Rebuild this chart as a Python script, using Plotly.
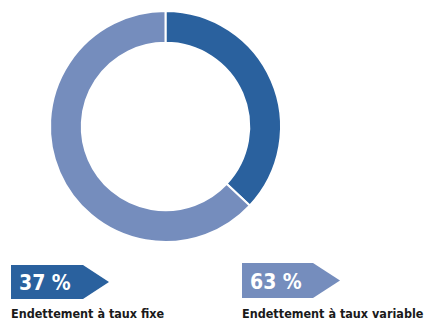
import plotly.graph_objects as go

# Debt split by rate type
labels = ["Endettement à taux fixe", "Endettement à taux variable"]
shares = [37, 63]
colors = ["#2a619e", "#758dbd"]

W, H = 430, 320
FONT = "DejaVu Sans Condensed, Roboto, Arial, sans-serif"

fig = go.Figure()

# Donut, starting at 12 o'clock and running clockwise
fig.add_trace(go.Pie(
    labels=labels,
    values=shares,
    sort=False,
    direction="clockwise",
    rotation=0,
    hole=0.725,
    marker=dict(colors=colors, line=dict(color="white", width=2)),
    textinfo="none",
    hoverinfo="label+percent",
    showlegend=False,
    domain=dict(x=[50 / W, 281 / W], y=[1 - 242 / H, 1 - 11 / H]),
))

# Invisible pixel-space axes used to place the arrow tags
fig.add_trace(go.Scatter(x=[], y=[], showlegend=False, hoverinfo="skip"))

tags = [
    dict(x0=11, x1=83, tip=109, y0=265, y1=299),
    dict(x0=242, x1=313, tip=340, y0=263, y1=298),
]

for tag, share, label, color in zip(tags, shares, labels, colors):
    ym = (tag["y0"] + tag["y1"]) / 2
    path = (f"M {tag['x0']} {tag['y0']} L {tag['x1']} {tag['y0']} "
            f"L {tag['tip']} {ym} L {tag['x1']} {tag['y1']} "
            f"L {tag['x0']} {tag['y1']} Z")
    fig.add_shape(type="path", path=path, xref="x", yref="y",
                  fillcolor=color, line=dict(width=0), layer="above")
    fig.add_annotation(x=tag["x0"] + 6, y=ym + 1, xref="x", yref="y",
                       text=f"<b>{share} %</b>", showarrow=False,
                       xanchor="left", yanchor="middle",
                       font=dict(family=FONT, size=21, color="white"))
    fig.add_annotation(x=tag["x0"] - 2, y=313, xref="x", yref="y",
                       text=f"<b>{label}</b>", showarrow=False,
                       xanchor="left", yanchor="middle",
                       font=dict(family=FONT, size=12.5, color="#1a1a1a"))

fig.update_layout(
    width=W, height=H,
    margin=dict(l=0, r=0, t=0, b=0),
    paper_bgcolor="white",
    plot_bgcolor="rgba(0,0,0,0)",
    xaxis=dict(range=[0, W], visible=False, fixedrange=True),
    yaxis=dict(range=[H, 0], visible=False, fixedrange=True),
)

fig.write_html("out.html")
